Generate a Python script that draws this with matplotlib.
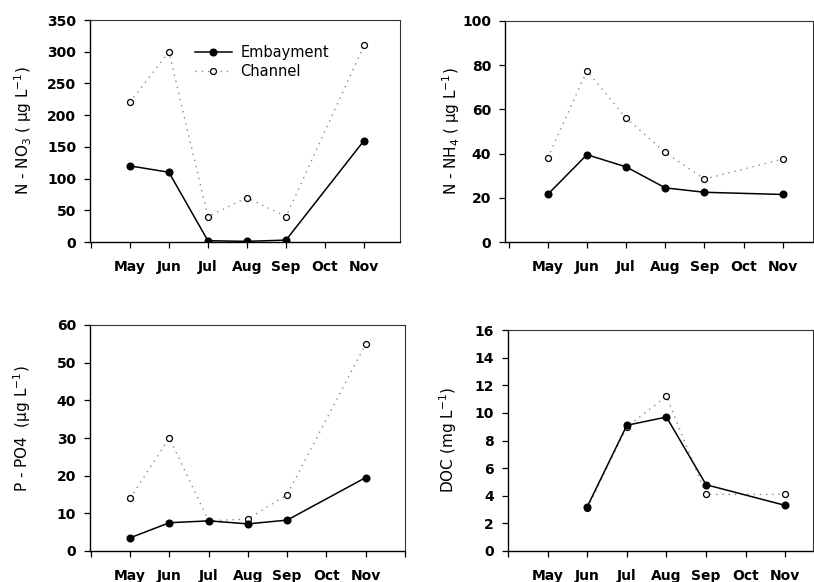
import matplotlib
matplotlib.use("Agg")
import matplotlib.pyplot as plt
import numpy as np

plt.rcParams['font.family'] = ['DejaVu Sans']
plt.rcParams['mathtext.fontset'] = 'dejavusans'

months = ['May', 'Jun', 'Jul', 'Aug', 'Sep', 'Oct', 'Nov']
nan = np.nan

# N-NO3 (ug/L)
no3_emb = [120, 110, 2, 1, 3, nan, 160]
no3_chan = [220, 300, 40, 70, 40, nan, 310]
# N-NH4 (ug/L)
nh4_emb = [21.5, 39.5, 34, 24.5, 22.5, nan, 21.5]
nh4_chan = [38, 77.5, 56, 40.5, 28.5, nan, 37.5]
# P-PO4 (ug/L)
po4_emb = [3.5, 7.5, 8, 7.2, 8.2, nan, 19.5]
po4_chan = [14, 30, 8, 8.5, 15, nan, 55]
# DOC (mg/L)
doc_emb = [nan, 3.2, 9.1, 9.7, 4.8, nan, 3.3]
doc_chan = [nan, 3.1, 9.0, 11.2, 4.1, nan, 4.1]

W, H = 814, 582
fig = plt.figure(figsize=(W / 100, H / 100), dpi=100)


def make_ax(l, r, t, b, xlim):
    ax = fig.add_axes([l / W, (H - b) / H, (r - l) / W, (b - t) / H])
    ax.set_xlim(*xlim)
    return ax


def draw(ax, emb, chan, ylim, ystep, ylabel):
    x = np.arange(len(months))
    e = np.array(emb, float)
    c = np.array(chan, float)
    me = ~np.isnan(e)
    mc = ~np.isnan(c)
    ax.plot(x[mc], c[mc], color='#8a8a8a', lw=1, ls=(0, (1, 3.5)),
            marker='o', ms=4.3, mfc='white', mec='black', mew=0.9,
            label='Channel', zorder=2)
    ax.plot(x[me], e[me], color='black', lw=1.1, marker='o', ms=4.8,
            mfc='black', mec='black', label='Embayment', zorder=3)
    ax.set_ylim(*ylim)
    ax.set_yticks(np.arange(ylim[0], ylim[1] + ystep / 2, ystep))
    lo, hi = ax.get_xlim()
    ticks = [t for t in range(-1, 8) if lo - 0.01 <= t <= hi + 0.01]
    ax.set_xticks(ticks)
    ax.set_xticklabels([months[t] if 0 <= t < len(months) else '' for t in ticks])
    ax.tick_params(direction='out', length=4, width=0.9, labelsize=10)
    ax.tick_params(axis='x', pad=9)
    ax.tick_params(axis='y', pad=6)
    for lab in ax.get_xticklabels() + ax.get_yticklabels():
        lab.set_fontweight('bold')
    for s in ['left', 'bottom']:
        ax.spines[s].set_linewidth(1.0)
    for s in ['top', 'right']:
        ax.spines[s].set_linewidth(0.8)
        ax.spines[s].set_color('#333333')
    ax.set_ylabel(ylabel, fontsize=11)
    return ax


ax1 = make_ax(90, 400, 20, 242, (-1.02, 6.92))
draw(ax1, no3_emb, no3_chan, (0, 350), 50, r'N - NO$_3$ ( µg L$^{-1}$)')
ax1.yaxis.set_label_coords(-0.18, 0.5)
h, l = ax1.get_legend_handles_labels()
ax1.legend(h[::-1], l[::-1], loc='center', bbox_to_anchor=(0.555, 0.81),
           frameon=False, fontsize=10.5, handlelength=2.5, handletextpad=0.6,
           labelspacing=0.3)

ax2 = make_ax(505, 813, 21, 242, (-1.09, 6.77))
draw(ax2, nh4_emb, nh4_chan, (0, 100), 20, r'N - NH$_4$ ( µg L$^{-1}$)')
ax2.yaxis.set_label_coords(-0.14, 0.5)

ax3 = make_ax(90, 405, 325, 551, (-1.02, 7.0))
draw(ax3, po4_emb, po4_chan, (0, 60), 10, r'P - PO4  (µg L$^{-1}$)')
ax3.yaxis.set_label_coords(-0.18, 0.54)

ax4 = make_ax(508, 813, 330, 551, (-1.0, 6.7))
draw(ax4, doc_emb, doc_chan, (0, 16), 2, r'DOC (mg L$^{-1}$)')
ax4.yaxis.set_label_coords(-0.16, 0.5)

fig.savefig('out.png', dpi=100)
